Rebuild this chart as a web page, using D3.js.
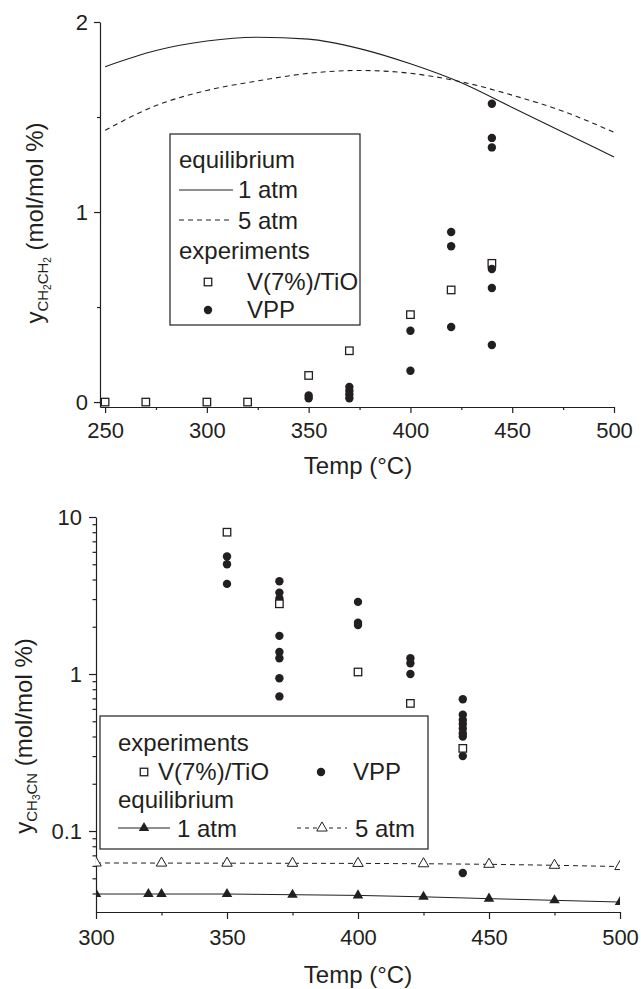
<!DOCTYPE html>
<html>
<head>
<meta charset="utf-8">
<script src="https://cdn.jsdelivr.net/npm/d3@7"></script>
<style>
  body { margin: 0; background: #fff; }
  svg text { font-family: "Liberation Sans", Arial, sans-serif; fill: #231f20; }
  .axis path, .axis line { stroke: #231f20; stroke-width: 1.2; }
  .axis text { font-size: 22px; }
  .lab { font-size: 24px; }
  .leg text { font-size: 24px; }
</style>
</head>
<body>
<div id="plot"></div>
<script>
const W = 641, H = 989, ink = "#231f20"

// top panel: ethylene (CH2CH2)
const eqTemp = [250, 275, 300, 325, 350, 375, 400, 425, 450, 475, 500]
const eq1atm = [1.765, 1.85, 1.90, 1.92, 1.91, 1.86, 1.78, 1.68, 1.55, 1.42, 1.29]
const eq5atm = [1.43, 1.56, 1.64, 1.69, 1.73, 1.745, 1.73, 1.685, 1.615, 1.53, 1.42]
const tioTemp = [250, 270, 300, 320, 350, 370, 400, 420, 440]
const tioC2H4 = [0, 0, 0, 0, 0.14, 0.27, 0.46, 0.59, 0.73]
const vppTemp = [350, 350, 370, 370, 370, 370, 400, 400, 420, 420, 420, 440, 440, 440, 440, 440, 440]
const vppC2H4 = [0.02, 0.035, 0.08, 0.06, 0.04, 0.02, 0.375, 0.165, 0.895, 0.82, 0.395, 1.57, 1.39, 1.34, 0.70, 0.60, 0.30]
const topXTicks = [250, 300, 350, 400, 450, 500],
    topXMinor = [275, 325, 375, 425, 475],
    topYTicks = [0, 1, 2],
    topYMinor = [0.5, 1.5]

// bottom panel: acetonitrile (CH3CN), log scale
const tioTempB = [350, 370, 400, 420, 440]
const tioCH3CN = [8.0, 2.8, 1.03, 0.65, 0.336]
const vppTempB = [350, 350, 350, 370, 370, 370, 370, 370, 370, 370, 370, 400, 400, 400,
  420, 420, 420, 440, 440, 440, 440, 440, 440, 440, 440, 440]
const vppCH3CN = [5.6, 5.0, 3.75, 3.9, 3.3, 3.03, 1.75, 1.38, 1.26, 0.94, 0.72, 2.88, 2.12, 2.05,
  1.26, 1.17, 1.0, 0.69, 0.55, 0.51, 0.48, 0.45, 0.42, 0.40, 0.30, 0.054]
const eq1Temp = [300, 320, 325, 350, 375, 400, 425, 450, 475, 500]
const eq1CH3CN = [0.0397, 0.0397, 0.0397, 0.0397, 0.0393, 0.0389, 0.0381, 0.0371, 0.0362, 0.0353]
const eq5Temp = [300, 325, 350, 375, 400, 425, 450, 475, 500]
const eq5CH3CN = [0.0626, 0.0625, 0.0624, 0.0623, 0.0622, 0.0619, 0.0614, 0.0605, 0.0594]
const botXTicks = [300, 350, 400, 450, 500],
    botXMinor = [325, 375, 425, 475],
    botYTicks = [0.1, 1, 10]

const svg = d3.select("#plot").append("svg")
  .attr("width", W)
  .attr("height", H)

const zip = (a, b) => a.map((v, i) => [v, b[i]])
const fmt = d => d3.format("~g")(d)

// draws major + minor ticks for one panel
function drawAxes(x, y, o) {
  const x0 = x.range()[0], y0 = y.range()[0]
  svg.append("g").attr("class", "axis")
    .attr("transform", `translate(0,${y0})`)
    .call(d3.axisBottom(x).tickValues(o.xt).tickFormat(fmt)
      .tickSize(o.tick).tickSizeOuter(0).tickPadding(o.xpad))
  svg.append("g").attr("class", "axis")
    .attr("transform", `translate(0,${y0})`)
    .call(d3.axisBottom(x).tickValues(o.xm).tickFormat("")
      .tickSize(o.tick / 2).tickSizeOuter(0))
    .select(".domain").remove()
  svg.append("g").attr("class", "axis")
    .attr("transform", `translate(${x0},0)`)
    .call(d3.axisLeft(y).tickValues(o.yt).tickFormat(fmt)
      .tickSize(o.tick).tickSizeOuter(0).tickPadding(o.ypad))
  svg.append("g").attr("class", "axis")
    .attr("transform", `translate(${x0},0)`)
    .call(d3.axisLeft(y).tickValues(o.ym).tickFormat("")
      .tickSize(o.tick / 2).tickSizeOuter(0))
    .select(".domain").remove()
  svg.selectAll(".axis").attr("font-family", null).attr("font-size", null)
}

function yLabel(cx, cy, parts) {
  const t = svg.append("text").attr("class", "lab")
    .attr("transform", `translate(${cx},${cy}) rotate(-90)`)
    .attr("text-anchor", "middle")
  t.append("tspan").text("y")
  // parts: [text, level] where level 1 = subscript, 2 = sub-subscript
  let cur = 0
  const shift = [0, 5, 8], size = [24, 15, 10]
  parts.forEach(([s, lev]) => {
    t.append("tspan").attr("dy", shift[lev] - shift[cur])
      .style("font-size", size[lev] + "px").text(s)
    cur = lev
  })
  t.append("tspan").attr("dy", -shift[cur]).style("font-size", "24px").text("\u00a0(mol/mol %)")
}

const square = (g, cx, cy, s) => g.append("rect")
  .attr("x", cx - s / 2).attr("y", cy - s / 2).attr("width", s).attr("height", s)
  .attr("fill", "#fff").attr("stroke", ink).attr("stroke-width", 1.3)
const dot = (g, cx, cy, r) => g.append("circle")
  .attr("cx", cx).attr("cy", cy).attr("r", r).attr("fill", ink)
const tri = d3.symbol(d3.symbolTriangle, 48)

// ---------- top panel ----------
const x1 = d3.scaleLinear().domain([247.5, 500]).range([100, 614]),
    y1 = d3.scaleLinear().domain([-0.026, 2]).range([407, 22])

drawAxes(x1, y1, {xt: topXTicks, xm: topXMinor, yt: topYTicks, ym: topYMinor, tick: 6, xpad: 9, ypad: 6})

const line1 = d3.line().x(d => x1(d[0])).y(d => y1(d[1])).curve(d3.curveMonotoneX)
svg.append("path").datum(zip(eqTemp, eq1atm))
  .attr("d", line1).attr("fill", "none").attr("stroke", ink).attr("stroke-width", 1.1)
svg.append("path").datum(zip(eqTemp, eq5atm))
  .attr("d", line1).attr("fill", "none").attr("stroke", ink).attr("stroke-width", 1.1)
  .attr("stroke-dasharray", "5,4")

zip(tioTemp, tioC2H4).forEach(d => square(svg, x1(d[0]), y1(d[1]), 7.5))
zip(vppTemp, vppC2H4).forEach(d => dot(svg, x1(d[0]), y1(d[1]), 4.2))

const leg1 = svg.append("g").attr("class", "leg")
leg1.append("rect").attr("x", 170).attr("y", 134).attr("width", 190).attr("height", 191)
  .attr("fill", "#fff").attr("stroke", ink).attr("stroke-width", 1.2)
leg1.append("text").attr("x", 179).attr("y", 168).text("equilibrium")
leg1.append("line").attr("x1", 179).attr("x2", 233).attr("y1", 190).attr("y2", 190)
  .attr("stroke", ink).attr("stroke-width", 1.1)
leg1.append("text").attr("x", 238).attr("y", 198).text("1 atm")
leg1.append("line").attr("x1", 179).attr("x2", 233).attr("y1", 220).attr("y2", 220)
  .attr("stroke", ink).attr("stroke-width", 1.1).attr("stroke-dasharray", "5,4")
leg1.append("text").attr("x", 238).attr("y", 229).text("5 atm")
leg1.append("text").attr("x", 179).attr("y", 259).text("experiments")
square(leg1, 208, 282, 7.5)
leg1.append("text").attr("x", 247).attr("y", 290).text("V(7%)/TiO")
dot(leg1, 208, 310, 4.2)
leg1.append("text").attr("x", 247).attr("y", 318).text("VPP")

svg.append("text").attr("class", "lab").attr("x", 358).attr("y", 474)
  .attr("text-anchor", "middle").text("Temp (\u00b0C)")
yLabel(43, 223, [["CH", 1], ["2", 2], ["CH", 1], ["2", 2]])

// ---------- bottom panel ----------
const x2 = d3.scaleLinear().domain([300, 500]).range([96, 620]),
    y2 = d3.scaleLog().domain([0.0305, 10]).range([912, 517])
const botYMinor = y2.ticks().filter(v => !botYTicks.includes(v))

drawAxes(x2, y2, {xt: botXTicks, xm: botXMinor, yt: botYTicks, ym: botYMinor, tick: 7, xpad: 10, ypad: 7})

svg.append("clipPath").attr("id", "clip2")
  .append("rect").attr("x", 96).attr("y", 517).attr("width", 524).attr("height", 395)

const eqG = svg.append("g").attr("clip-path", "url(#clip2)")
const line2 = d3.line().x(d => x2(d[0])).y(d => y2(d[1]))
eqG.append("path").datum(zip(eq5Temp, eq5CH3CN))
  .attr("d", line2).attr("fill", "none").attr("stroke", ink).attr("stroke-width", 1)
  .attr("stroke-dasharray", "5,4")
eqG.append("path").datum(zip(eq1Temp, eq1CH3CN))
  .attr("d", line2).attr("fill", "none").attr("stroke", ink).attr("stroke-width", 1)
eqG.selectAll(".t5").data(zip(eq5Temp, eq5CH3CN)).join("path")
  .attr("d", tri).attr("transform", d => `translate(${x2(d[0])},${y2(d[1])})`)
  .attr("fill", "#fff").attr("stroke", ink).attr("stroke-width", 1)
eqG.selectAll(".t1").data(zip(eq1Temp, eq1CH3CN)).join("path")
  .attr("d", tri).attr("transform", d => `translate(${x2(d[0])},${y2(d[1])})`)
  .attr("fill", ink)

zip(vppTempB, vppCH3CN).forEach(d => dot(svg, x2(d[0]), y2(d[1]), 4.2))
zip(tioTempB, tioCH3CN).forEach(d => square(svg, x2(d[0]), y2(d[1]), 7.5))

const leg2 = svg.append("g").attr("class", "leg")
leg2.append("rect").attr("x", 100).attr("y", 716).attr("width", 328).attr("height", 133)
  .attr("fill", "#fff").attr("stroke", ink).attr("stroke-width", 1.2)
leg2.append("text").attr("x", 118).attr("y", 751).text("experiments")
square(leg2, 144, 772, 7.5)
leg2.append("text").attr("x", 158).attr("y", 780).text("V(7%)/TiO")
dot(leg2, 321, 772, 4.2)
leg2.append("text").attr("x", 353).attr("y", 780).text("VPP")
leg2.append("text").attr("x", 118).attr("y", 808).text("equilibrium")
leg2.append("line").attr("x1", 118).attr("x2", 170).attr("y1", 828).attr("y2", 828)
  .attr("stroke", ink).attr("stroke-width", 1)
leg2.append("path").attr("d", tri).attr("transform", "translate(144,828)").attr("fill", ink)
leg2.append("text").attr("x", 177).attr("y", 837).text("1 atm")
leg2.append("line").attr("x1", 297).attr("x2", 347).attr("y1", 828).attr("y2", 828)
  .attr("stroke", ink).attr("stroke-width", 1).attr("stroke-dasharray", "4,4")
leg2.append("path").attr("d", tri).attr("transform", "translate(322,828)")
  .attr("fill", "#fff").attr("stroke", ink).attr("stroke-width", 1)
leg2.append("text").attr("x", 355).attr("y", 837).text("5 atm")

svg.append("text").attr("class", "lab").attr("x", 358).attr("y", 983)
  .attr("text-anchor", "middle").text("Temp (\u00b0C)")
yLabel(32, 736, [["CH", 1], ["3", 2], ["CN", 1]])
</script>
</body>
</html>
